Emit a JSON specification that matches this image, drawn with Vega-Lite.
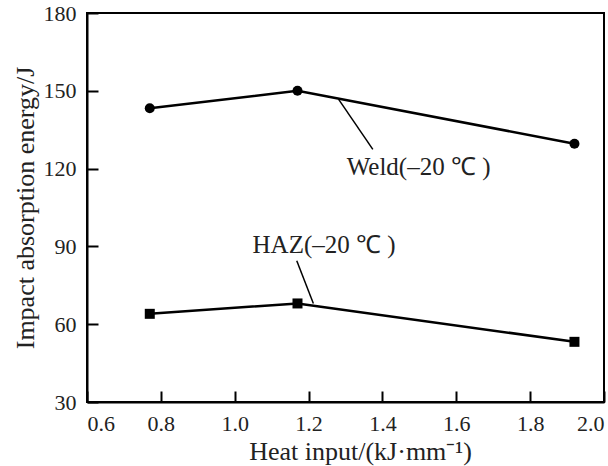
{
  "$schema": "https://vega.github.io/schema/vega-lite/v6.json",
  "width": 517,
  "height": 389,
  "autosize": {"type": "none"},
  "padding": {"left": 87, "top": 13, "right": 4, "bottom": 64},
  "background": "white",
  "config": {
    "view": {"stroke": "black", "strokeWidth": 2},
    "font": "Liberation Serif",
    "axis": {
      "grid": false,
      "domainColor": "black",
      "domainWidth": 2,
      "tickColor": "black",
      "tickWidth": 2,
      "tickSize": -11,
      "labelFont": "Liberation Serif",
      "labelFontSize": 22,
      "labelColor": "#222",
      "titleFont": "Liberation Serif",
      "titleFontSize": 26,
      "titleFontWeight": "normal",
      "titleColor": "#222"
    }
  },
  "layer": [
    {
      "data": {"name": "series", "values": [
        {"series": "Weld", "x": 0.77, "y": 143.3},
        {"series": "Weld", "x": 1.17, "y": 150.0},
        {"series": "Weld", "x": 1.92, "y": 129.6},
        {"series": "HAZ", "x": 0.77, "y": 64.0},
        {"series": "HAZ", "x": 1.17, "y": 68.0},
        {"series": "HAZ", "x": 1.92, "y": 53.2}
      ]},
      "layer": [
        {
          "mark": {"type": "line", "color": "black", "strokeWidth": 2.5},
          "encoding": {
            "x": {"field": "x", "type": "quantitative"},
            "y": {"field": "y", "type": "quantitative"},
            "detail": {"field": "series"}
          }
        },
        {
          "mark": {"type": "point", "filled": true, "color": "black", "opacity": 1, "size": 100},
          "encoding": {
            "x": {"field": "x", "type": "quantitative"},
            "y": {"field": "y", "type": "quantitative"},
            "shape": {"field": "series", "type": "nominal", "scale": {"domain": ["Weld", "HAZ"], "range": ["circle", "square"]}, "legend": null}
          }
        }
      ]
    },
    {
      "data": {"values": [
        {"x": 1.281, "y": 146.8, "x2": 1.374, "y2": 127.4},
        {"x": 1.168, "y": 84.5, "x2": 1.213, "y2": 68.0}
      ]},
      "mark": {"type": "rule", "color": "black", "strokeWidth": 1.5},
      "encoding": {
        "x": {"field": "x", "type": "quantitative"},
        "y": {"field": "y", "type": "quantitative"},
        "x2": {"field": "x2"},
        "y2": {"field": "y2"}
      }
    },
    {
      "data": {"values": [
        {"label": "Weld(–20 ℃ )", "x": 1.498, "y": 120.7},
        {"label": "HAZ(–20 ℃ )", "x": 1.242, "y": 90.5}
      ]},
      "mark": {"type": "text", "font": "Liberation Serif", "fontSize": 25, "color": "#222", "align": "center", "baseline": "middle"},
      "encoding": {
        "x": {"field": "x", "type": "quantitative"},
        "y": {"field": "y", "type": "quantitative"},
        "text": {"field": "label"}
      }
    }
  ],
  "encoding": {
    "x": {
      "field": "x", "type": "quantitative",
      "scale": {"domain": [0.6, 2.0], "nice": false, "zero": false},
      "axis": {"values": [0.6, 0.8, 1.0, 1.2, 1.4, 1.6, 1.8, 2.0], "format": ".1f", "labelPadding": 22, "title": "Heat input/(kJ·mm⁻¹)", "titlePadding": 4, "titleX": 273}
    },
    "y": {
      "field": "y", "type": "quantitative",
      "scale": {"domain": [30, 180], "nice": false, "zero": false},
      "axis": {"values": [30, 60, 90, 120, 150, 180], "labelPadding": 22, "title": "Impact absorption energy/J", "titlePadding": 5}
    }
  }
}
